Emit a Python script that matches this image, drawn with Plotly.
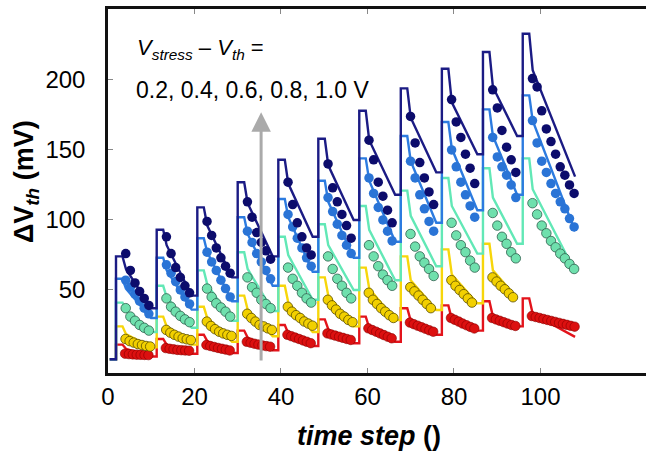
import plotly.graph_objects as go

# ---------------- data ----------------
cycle_start = [1.85, 11.26, 20.65, 29.99, 39.38, 48.63, 58.1, 67.7, 77.2, 86.7, 95.9]
final_end = 108.0

navy_peak = [74, 93, 109, 127, 143, 158, 178, 194, 208, 220, 233]
navy_drop = [65, 82, 96, 112, 126, 139, 157, 173, 184, 195, 207]
navy_end = [37, 46, 59, 74, 88, 100, 118, 134, 147, 160, 131]
navy_dots = [
    [76, 64, 55, 49, 44, 39],
    [88, 76, 66, 59, 53, 48],
    [99, 89, 80, 73, 67, 62],
    [113, 102, 91, 84, 78, 72],
    [127, 111, 98, 88, 80, 75],
    [140, 123, 113, 104, 96, 87],
    [157, 143, 127, 117, 107, 98],
    [174, 155, 141, 130, 120, 111],
    [186, 170, 159, 147, 137, 126],
    [193, 180, 164, 152, 143, 134],
    [201, 195, 178, 165, 156, 147, 138, 132, 125, 119],
]

blue_peak = [58, 73, 87, 102, 115, 128, 144, 160, 170, 179, 189]
blue_drop = [51, 64, 77, 90, 102, 113, 128, 142, 151, 160, 171]
blue_end = [30, 36, 42, 53, 63, 73, 84.5, 98, 107, 118, 92]
blue_dots = [
    [57, 52, 47, 42, 37, 33],
    [68, 62, 56, 50, 45, 40],
    [77, 70, 64, 57, 51, 45],
    [92, 84, 76, 70, 64, 58],
    [104, 95, 87, 80, 73, 67],
    [116, 106, 97, 89, 82, 76],
    [130, 119, 109, 100, 92, 85],
    [142, 130, 118, 108, 99, 92],
    [150, 138, 127, 118, 110, 102],
    [159, 145, 138, 132, 125, 116],
    [171, 155, 142, 134, 126, 119, 113, 108, 101, 95],
]

aqua_peak = [41, 53, 64, 77, 88, 97, 110, 121, 130, 137, 144]
aqua_drop = [35, 45, 54, 65, 75, 82, 93, 103, 110, 116, 122]
aqua_end = [20, 23, 28, 35, 43, 50, 57, 67, 76, 83, 63]
aqua_dots = [
    [37, 31, 28, 25, 23, 21],
    [44, 38, 34.5, 31.5, 29, 27],
    [51, 45, 40.5, 37.5, 34.5, 31],
    [59, 52, 48, 43, 40, 37],
    [66, 58, 53, 48, 44, 41],
    [74, 65, 58, 53, 48, 44],
    [82, 74, 67, 61, 57, 53],
    [90, 81, 74, 69.5, 65, 60],
    [98, 89, 82, 77, 71, 66],
    [105, 96, 88, 83, 77, 72.6],
    [112, 104, 96, 90.5, 85, 80.5, 76, 72.6, 68.6, 65],
]

yellow_peak = [24, 31, 38, 46, 53, 59, 66, 74, 79, 83]
yellow_drop = [18.5, 24, 30, 36, 41, 46, 51, 57, 61, 64]
yellow_end = [9, 11, 13, 17, 20, 24, 28.6, 35.7, 40.5, 44]
yellow_dots = [
    [15, 13.5, 12.4, 11.4, 10.7, 10, 9.6],
    [21.5, 19.5, 18, 16.7, 15.5, 14.8, 14.2],
    [27.4, 24.3, 22, 20.2, 19, 18, 17.2],
    [33, 30, 27.4, 25, 24, 22.6, 21.5],
    [38, 34.5, 32, 30, 27.5, 26, 24.5],
    [43, 39, 36, 33, 31, 28.6, 27],
    [48, 43, 40, 37, 34.5, 32, 30],
    [52, 49, 46, 43, 40, 37],
    [57, 53, 50, 47, 44, 41],
    [59, 56, 53, 50.5, 47.6, 44.8],
]

red_peak = [11, 15, 18, 21, 25, 29, 31, 37, 39, 42, 44]
red_drop = [8, 11, 13.5, 16, 19, 22, 23, 28, 29, 31, 33]
red_end = [2.5, 4.5, 5, 7, 10, 12, 13, 18, 21, 24, 16.5]
red_dots = [
    [4.5, 4.2, 4, 3.8, 3.7, 3.6, 3.5],
    [8.5, 8, 7.6, 7.2, 7, 6.8, 6.6],
    [10.7, 10, 9.3, 8.6, 8, 7.4, 6.8],
    [13, 12.3, 11.6, 11, 10.4, 9.9, 9.5],
    [18, 17, 16, 15, 14, 13, 12],
    [19, 18.2, 17.4, 16.6, 15.8, 15, 14.3],
    [22.6, 21.4, 20.2, 19, 17.8, 16.6, 15.5],
    [26.7, 25.6, 24.5, 23.4, 22.3, 21.2, 20.2],
    [30, 28.7, 27.4, 26, 24.8, 23.6, 22.5],
    [30, 29, 28, 27, 26, 25, 24.3],
    [31.4, 30.7, 30, 29.3, 28.6, 27.9, 27.2, 26.5, 25.8, 25.1, 24.4, 23.8],
]

x_ticks = [0, 20, 40, 60, 80, 100]
y_ticks = [50, 100, 150, 200]

# ---------------- timing inside a cycle ----------------
T_TOP = 1.5     # flat top duration
T_DROP = 2.3    # time of the fast-drop point
T_FLAT = 1.3    # flat bottom before next rise
BASE = 0.5


def model_line(peaks, drops, ends):
    xs, ys = [0.4], [BASE]
    prev = BASE
    n = len(peaks)
    for k in range(n):
        tr = cycle_start[k]
        xs += [tr, tr, tr + T_TOP, tr + T_DROP]
        ys += [prev, peaks[k], peaks[k], drops[k]]
        if k + 1 < len(cycle_start):
            t_end = cycle_start[k + 1] - T_FLAT
        else:
            t_end = final_end
        xs.append(t_end)
        ys.append(ends[k])
        prev = ends[k]
        if k + 1 < n:
            xs.append(cycle_start[k + 1])
            ys.append(prev)
    return xs, ys


def dot_xy(dots, offset, step):
    xs, ys = [], []
    for k, vals in enumerate(dots):
        for j, v in enumerate(vals):
            xs.append(cycle_start[k] + offset + j * step)
            ys.append(v)
    return xs, ys


series = [
    # name, peaks, drops, ends, dots, line color, dot fill, dot outline, outline width, offset, step
    ("1.0 V", navy_peak, navy_drop, navy_end, navy_dots, "#1b1b84", "#0c0c6c", "#0c0c6c", 0, 2.25, 1.07),
    ("0.8 V", blue_peak, blue_drop, blue_end, blue_dots, "#2c7be0", "#2a74d6", "#2a74d6", 0, 2.25, 1.07),
    ("0.6 V", aqua_peak, aqua_drop, aqua_end, aqua_dots, "#62e8b6", "#6fe0ad", "#2d5f4c", 0.8, 2.25, 1.07),
    ("0.4 V", yellow_peak, yellow_drop, yellow_end, yellow_dots, "#f7d60a", "#f2d000", "#5a4e00", 0.8, 2.2, 0.95),
    ("0.2 V", red_peak, red_drop, red_end, red_dots, "#e3131b", "#dc1010", "#8a0000", 0.6, 2.1, 0.9),
]

fig = go.Figure()

for name, pk, dr, en, dots, lc, fc, oc, ow, off, st in reversed(series):
    lx, ly = model_line(pk, dr, en)
    fig.add_trace(go.Scatter(x=lx, y=ly, mode="lines", line=dict(color=lc, width=2.4),
                             name=name + " model", hoverinfo="skip"))

for name, pk, dr, en, dots, lc, fc, oc, ow, off, st in reversed(series):
    dx, dy = dot_xy(dots, off, st)
    fig.add_trace(go.Scatter(x=dx, y=dy, mode="markers",
                             marker=dict(size=9.5, color=fc, line=dict(color=oc, width=ow)),
                             name=name + " data"))

FONT = "Liberation Sans, Arial, sans-serif"

fig.update_layout(
    width=646, height=456,
    margin=dict(l=108, r=0, t=9, b=83),
    paper_bgcolor="white", plot_bgcolor="white",
    showlegend=False,
    font=dict(family=FONT, color="black"),
    xaxis=dict(range=[0, 124.4], tickvals=x_ticks, ticktext=[str(v) for v in x_ticks],
               showgrid=False, zeroline=False, showline=True, linecolor="#111", linewidth=2.5,
               mirror="ticks", ticks="inside", ticklen=5, tickwidth=1, tickcolor="#888",
               tickfont=dict(size=24, family=FONT, color="black"), ticklabelstandoff=0),
    yaxis=dict(range=[-9.3, 250.7], tickvals=y_ticks, ticktext=[str(v) for v in y_ticks],
               showgrid=False, zeroline=False, showline=True, linecolor="#111", linewidth=2.5,
               mirror=False, ticks="inside", ticklen=5, tickwidth=1, tickcolor="#888",
               tickfont=dict(size=24, family=FONT, color="black"), ticklabelstandoff=15),
)

fig.add_annotation(xref="paper", yref="paper", x=-0.152, y=0.525, textangle=-90,
                   text="<b>ΔV<sub><i>th</i></sub> (mV)</b>", showarrow=False,
                   font=dict(size=27, family=FONT, color="black"), xanchor="center", yanchor="middle")
fig.add_annotation(xref="paper", yref="paper", x=0.486, y=-0.172,
                   text="<b><i>time step</i> ()</b>", showarrow=False,
                   font=dict(size=27, family=FONT, color="black"), xanchor="center", yanchor="middle")

fig.add_annotation(xref="x", yref="y", x=6.3, y=222,
                   text="<i>V<sub>stress</sub></i> – <i>V<sub>th</sub></i> =", showarrow=False,
                   font=dict(size=22, family=FONT, color="black"), xanchor="left", yanchor="middle")
fig.add_annotation(xref="x", yref="y", x=5.9, y=193,
                   text="0.2, 0.4, 0.6, 0.8, 1.0 V", showarrow=False,
                   font=dict(size=23, family=FONT, color="black"), xanchor="left", yanchor="middle")

fig.add_annotation(xref="x", yref="y", x=35.4, y=177, axref="x", ayref="y", ax=35.4, ay=-1.5,
                   text="", showarrow=True, arrowhead=2, arrowsize=1.3, arrowwidth=3,
                   arrowcolor="#aaaaaa")

fig.write_html("out.html")
